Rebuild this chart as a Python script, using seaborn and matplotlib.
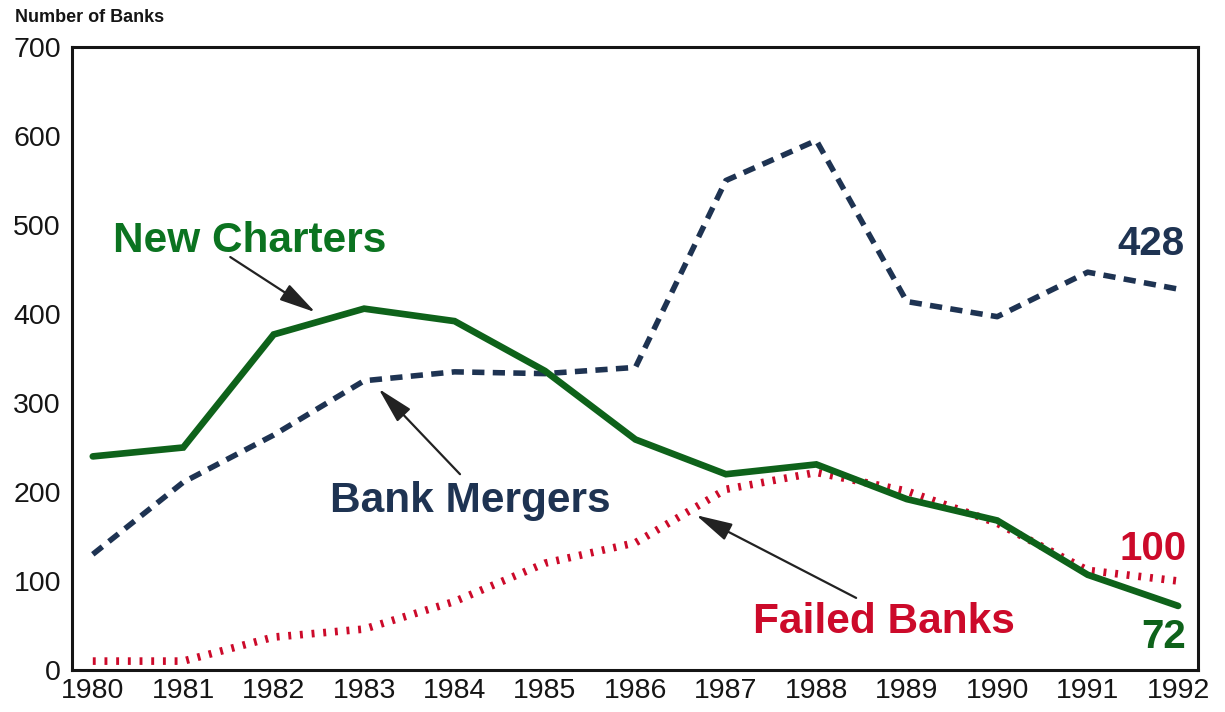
import matplotlib
matplotlib.use("Agg")
import matplotlib.pyplot as plt
import seaborn as sns
import pandas as pd

years = [1980, 1981, 1982, 1983, 1984, 1985, 1986, 1987, 1988, 1989, 1990, 1991, 1992]
new_charters = [240, 250, 377, 406, 392, 336, 259, 220, 231, 192, 168, 107, 72]
bank_mergers = [130, 211, 264, 325, 335, 333, 340, 550, 595, 414, 397, 447, 428]
failed_banks = [10, 10, 37, 46, 77, 120, 143, 203, 222, 201, 165, 112, 100]
yticks = [0, 100, 200, 300, 400, 500, 600, 700]

sns.set_theme(style="white")
plt.rcParams['font.family'] = ['Liberation Sans', 'DejaVu Sans']

GREEN_LINE = "#0e621a"
GREEN_TXT = "#0b7320"
NAVY = "#1e3352"
RED = "#cc0a2a"
INK = "#151515"

df = pd.DataFrame({"year": years, "nc": new_charters, "bm": bank_mergers, "fb": failed_banks})

fig = plt.figure(figsize=(12.25, 7.12), dpi=100)
ax = fig.add_axes([72/1225, 42/712, (1198-72)/1225, (670-47)/712])

sns.lineplot(data=df, x="year", y="fb", ax=ax, color=RED, lw=5.5,
             linestyle=(0, (0.38, 1.15)), dash_capstyle="butt")
sns.lineplot(data=df, x="year", y="bm", ax=ax, color=NAVY, lw=4,
             linestyle=(0, (2.2, 1.5)), dash_capstyle="butt")
sns.lineplot(data=df, x="year", y="nc", ax=ax, color=GREEN_LINE, lw=4.8,
             solid_joinstyle="miter")

ax.set_xlim(1979.77, 1992.22)
ax.set_ylim(0, 700)
ax.set_xticks(years)
ax.set_yticks(yticks)
ax.tick_params(axis="both", length=0, labelsize=20.5, colors=INK)
ax.tick_params(axis="y", pad=8)
ax.tick_params(axis="x", pad=6)
ax.set_xlabel("")
ax.set_ylabel("")
for s in ax.spines.values():
    s.set_color(INK)
    s.set_linewidth(2.2)

fig.text(15/1225, 1 - 18/712, "Number of Banks", fontsize=13, fontweight="bold",
         color=INK, ha="left", va="center")

bold = dict(fontweight="bold", fontsize=30.5)
ax.text(1980.22, 470, "New Charters", color=GREEN_TXT, ha="left", va="baseline", **bold)
ax.text(1982.62, 177, "Bank Mergers", color=NAVY, ha="left", va="baseline", **bold)
ax.text(1987.30, 42, "Failed Banks", color=RED, ha="left", va="baseline", **bold)
ax.text(1992.07, 466, "428", color=NAVY, ha="right", va="baseline", fontweight="bold", fontsize=29)
ax.text(1992.09, 124, "100", color=RED, ha="right", va="baseline", fontweight="bold", fontsize=29)
ax.text(1992.09, 25, "72", color=GREEN_LINE, ha="right", va="baseline", fontweight="bold", fontsize=29)

arrow = dict(arrowstyle="-|>,head_length=0.8,head_width=0.2", lw=1.6, color="#222222",
             mutation_scale=28, shrinkA=0, shrinkB=0)
ax.annotate("", xy=(1982.46, 402), xytext=(1981.52, 464), arrowprops=arrow)
ax.annotate("", xy=(1983.16, 316), xytext=(1984.06, 220), arrowprops=arrow)
ax.annotate("", xy=(1986.67, 174), xytext=(1988.44, 81), arrowprops=arrow)

fig.savefig("out.png", dpi=100)
